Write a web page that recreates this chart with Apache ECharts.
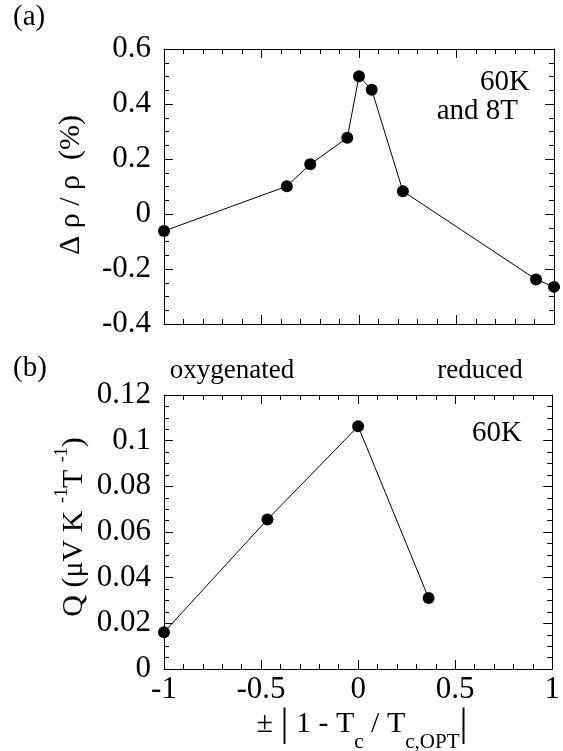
<!DOCTYPE html>
<html>
<head>
<meta charset="utf-8">
<script src="https://cdn.jsdelivr.net/npm/echarts@6/dist/echarts.min.js"></script>
<style>
html,body{margin:0;padding:0;background:#fff;}
#chart{width:563px;height:751px;}
</style>
</head>
<body>
<div id="chart"></div>
<script>
// Panel (a): Δρ/ρ (%) at 60K and 8T
const xTop = [-1.0, -0.37, -0.25, -0.06, 0.0, 0.065, 0.225, 0.908, 1.0];
const yTop = [-0.062, 0.101, 0.181, 0.277, 0.501, 0.452, 0.083, -0.238, -0.265];
// Panel (b): Q at 60K
const xBot = [-1.0, -0.467, 0.0, 0.363];
const yBot = [0.0161, 0.0655, 0.1063, 0.0311];
// Axis ranges / ticks
const xRange = {min: -1, max: 1, interval: 0.5};
const yTopRange = {min: -0.4, max: 0.6, interval: 0.2};
const yBotRange = {min: 0, max: 0.12, interval: 0.02};

const FONT = "Liberation Serif";
const BLACK = '#000';

function axisCommon(range, minorSplit, showLabel, position, gridIndex, labelMargin) {
  return {
    type: 'value', gridIndex: gridIndex, position: position,
    min: range.min, max: range.max, interval: range.interval,
    axisLine: {show: true, onZero: false, lineStyle: {color: BLACK, width: 1}},
    axisTick: {show: true, inside: true, length: 9, lineStyle: {color: BLACK, width: 1}},
    minorTick: {show: true, splitNumber: minorSplit, length: 5, lineStyle: {color: BLACK, width: 1}},
    splitLine: {show: false}, minorSplitLine: {show: false},
    axisLabel: {show: showLabel, color: BLACK, fontFamily: FONT, fontSize: 31, margin: labelMargin,
      showMinLabel: true, showMaxLabel: true}
  };
}

const option = {
  animation: false,
  backgroundColor: '#fff',
  grid: [
    {left: 164, right: 9, top: 49, height: 275},
    {left: 164, right: 9, top: 395, height: 274}
  ],
  xAxis: [
    axisCommon(xRange, 5, false, 'bottom', 0, 8),
    axisCommon(xRange, 5, false, 'top', 0, 8),
    axisCommon(xRange, 5, true, 'bottom', 1, 5),
    axisCommon(xRange, 5, false, 'top', 1, 8)
  ],
  yAxis: [
    axisCommon(yTopRange, 4, true, 'left', 0, 13),
    axisCommon(yTopRange, 4, false, 'right', 0, 8),
    axisCommon(yBotRange, 4, true, 'left', 1, 13),
    axisCommon(yBotRange, 4, false, 'right', 1, 8)
  ],
  series: [
    {
      type: 'line', xAxisIndex: 0, yAxisIndex: 0, clip: false,
      data: xTop.map((x, i) => [x, yTop[i]]),
      symbol: 'circle', symbolSize: 12,
      lineStyle: {color: BLACK, width: 1},
      itemStyle: {color: BLACK}
    },
    {
      type: 'line', xAxisIndex: 2, yAxisIndex: 2, clip: false,
      data: xBot.map((x, i) => [x, yBot[i]]),
      symbol: 'circle', symbolSize: 12,
      lineStyle: {color: BLACK, width: 1},
      itemStyle: {color: BLACK}
    }
  ],
  graphic: [
    {type: 'text', left: 13, top: 3, style: {text: '(a)', fontFamily: FONT, fontSize: 29, fill: BLACK}},
    {type: 'text', left: 13, top: 354, style: {text: '(b)', fontFamily: FONT, fontSize: 29, fill: BLACK}},
    {type: 'text', x: 232, y: 371, style: {text: 'oxygenated', fontFamily: FONT, fontSize: 27, fill: BLACK, align: 'center', verticalAlign: 'middle'}},
    {type: 'text', x: 480, y: 371, style: {text: 'reduced', fontFamily: FONT, fontSize: 27, fill: BLACK, align: 'center', verticalAlign: 'middle'}},
    {type: 'text', x: 530, y: 82, style: {text: '60K', fontFamily: FONT, fontSize: 29, fill: BLACK, align: 'right', verticalAlign: 'middle'}},
    {type: 'text', x: 518, y: 111, style: {text: 'and 8T', fontFamily: FONT, fontSize: 29, fill: BLACK, align: 'right', verticalAlign: 'middle'}},
    {type: 'text', x: 522, y: 433, style: {text: '60K', fontFamily: FONT, fontSize: 29, fill: BLACK, align: 'right', verticalAlign: 'middle'}},
    {type: 'text', x: 71, y: 185, rotation: Math.PI / 2,
      style: {text: 'Δ ρ / ρ  (%)', fontFamily: FONT, fontSize: 30, fill: BLACK, align: 'center', verticalAlign: 'middle'}},
    {type: 'text', x: 71, y: 527, rotation: Math.PI / 2,
      style: {
        text: '{m|Q (μV K }{s|-1}{m|T }{s|-1}{m|)}',
        align: 'center', verticalAlign: 'middle',
        rich: {
          m: {fontFamily: FONT, fontSize: 30, fill: BLACK, color: BLACK, lineHeight: 36, verticalAlign: 'bottom'},
          s: {fontFamily: FONT, fontSize: 18, fill: BLACK, color: BLACK, lineHeight: 36, verticalAlign: 'top'}
        }
      }},
    {type: 'text', x: 362, y: 724,
      style: {
        text: '{n|±}{n| }{bar||}{n| 1 - T}{sub|c}{n| / T}{sub|c,OPT}{bar||}',
        align: 'center', verticalAlign: 'middle',
        rich: {
          n: {fontFamily: FONT, fontSize: 30, color: BLACK, lineHeight: 42, verticalAlign: 'middle'},
          sub: {fontFamily: FONT, fontSize: 21, color: BLACK, lineHeight: 42, verticalAlign: 'bottom', padding: [0, 0, -8, 0]},
          bar: {fontFamily: FONT, fontSize: 40, color: BLACK, lineHeight: 42, verticalAlign: 'middle'}
        }
      }}
  ]
};

const chart = echarts.init(document.getElementById('chart'), null, {renderer: 'canvas'});
chart.setOption(option);
</script>
</body>
</html>
